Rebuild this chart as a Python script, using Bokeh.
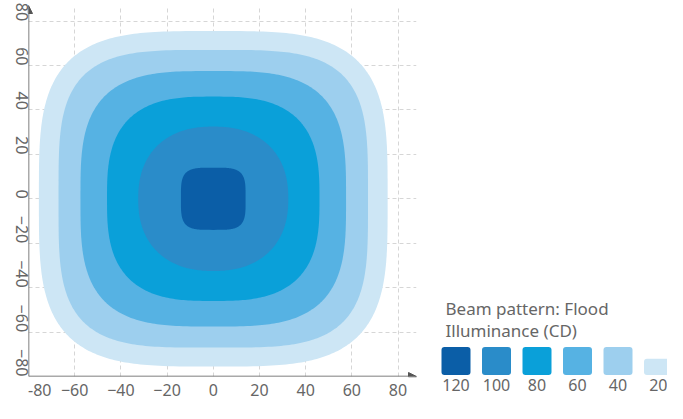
import math
import numpy as np
from bokeh.plotting import figure
from bokeh.layouts import row
from bokeh.models import Range1d, FixedTicker, Arrow, NormalHead
from bokeh.core.properties import value
from bokeh.embed import file_html
from bokeh.resources import INLINE

# ---- data ----
levels = [120, 100, 80, 60, 40, 20]                       # illuminance (CD)
colors = ["#0b5ea7", "#2a8cc9", "#0aa0d9", "#56b2e3", "#9dcfee", "#cde6f5"]
half_width = [14.0, 32.5, 46.0, 57.5, 67.0, 75.5]           # half extent of each contour (deg)
squareness = [4.0, 2.3, 2.9, 3.3, 3.8, 3.6]                 # superellipse exponent of each contour
ticks = [-80, -60, -40, -20, 0, 20, 40, 60, 80]
legend_title = ["Beam pattern: Flood", "Illuminance (CD)"]

FONT = "Noto Sans"
TXT = "#666666"
AX = "#555555"
H = 403
W1, W2 = 430, 237

# ---- contour plot ----
p = figure(width=W1, height=H, x_range=Range1d(-80, 88), y_range=Range1d(-80, 87),
           output_backend="svg", toolbar_location=None, title=None,
           min_border_left=28, min_border_right=14, min_border_top=5, min_border_bottom=0)
p.outline_line_color = None

t = np.linspace(0, 2 * np.pi, 361)
for lev, col, a, n in reversed(list(zip(levels, colors, half_width, squareness))):
    c, s = np.cos(t), np.sin(t)
    xs = a * np.sign(c) * np.abs(c) ** (2.0 / n)
    ys = a * np.sign(s) * np.abs(s) ** (2.0 / n)
    p.patch(xs, ys, fill_color=col, line_color=None)


def style_axis(ax, standoff):
    ax.axis_line_color = None
    ax.major_tick_line_color = None
    ax.minor_tick_line_color = None
    ax.major_tick_out = 0
    ax.major_tick_in = 0
    ax.minor_tick_out = 0
    ax.minor_tick_in = 0
    ax.major_label_text_font = FONT
    ax.major_label_text_font_size = "16px"
    ax.major_label_text_color = TXT
    ax.major_label_standoff = standoff


for ax in (p.xaxis[0], p.yaxis[0]):
    ax.ticker = FixedTicker(ticks=ticks)
style_axis(p.xaxis[0], 2)
style_axis(p.yaxis[0], 7)
p.yaxis[0].major_label_orientation = -math.pi / 2
# the first x label sits just right of the vertical axis
p.xaxis[0].major_label_overrides = {-80: "\u2007\u2007\u00a0-80"}

for g in (p.xgrid[0], p.ygrid[0]):
    g.grid_line_color = "#d6d6d6"
    g.grid_line_dash = "4 3"
    g.grid_line_width = 1
    g.bounds = (-80, 80)

p.add_layout(Arrow(end=NormalHead(size=8, fill_color=AX, line_color=AX),
                   x_start=-80, y_start=-80, x_end=88, y_end=-80,
                   line_color=AX, line_width=1.5))
p.add_layout(Arrow(end=NormalHead(size=8, fill_color=AX, line_color=AX),
                   x_start=-80, y_start=-80, x_end=-80, y_end=87,
                   line_color=AX, line_width=1.5))

# ---- legend panel: x in swatch slots, y in pixels above the axis level ----
c0, P = 25.5, 40.5          # first slot centre and slot pitch (px)
FH = 377                    # approx. frame height (px)
lg = figure(width=W2, height=H, x_range=Range1d(-c0 / P, (W2 - c0) / P), y_range=Range1d(0, FH),
            y_axis_type=None, output_backend="svg", title=None,
            toolbar_location=None, min_border=0, min_border_top=5)
lg.outline_line_color = None
lg.xgrid.visible = False
lg.ygrid.visible = False
lax = lg.xaxis[0]
lax.ticker = FixedTicker(ticks=list(range(len(levels))))
lax.major_label_overrides = {i: str(v) for i, v in enumerate(levels)}
style_axis(lax, 2)

lg.text(x=[(15 - c0) / P] * 2, y=[69, 47], text=legend_title, text_font=value(FONT),
        text_font_size="17px", text_color=TXT, text_baseline="alphabetic", text_align="left")

half = 14.5 / P
slots = np.arange(len(levels))
tops = [30] * (len(levels) - 1) + [18]
lg.quad(left=slots - half, right=slots + half, top=tops, bottom=[1.5] * len(levels),
        fill_color=colors, line_color=None, border_radius=3)

layout = row(p, lg)
open("out.html", "w").write(file_html(layout, INLINE))
